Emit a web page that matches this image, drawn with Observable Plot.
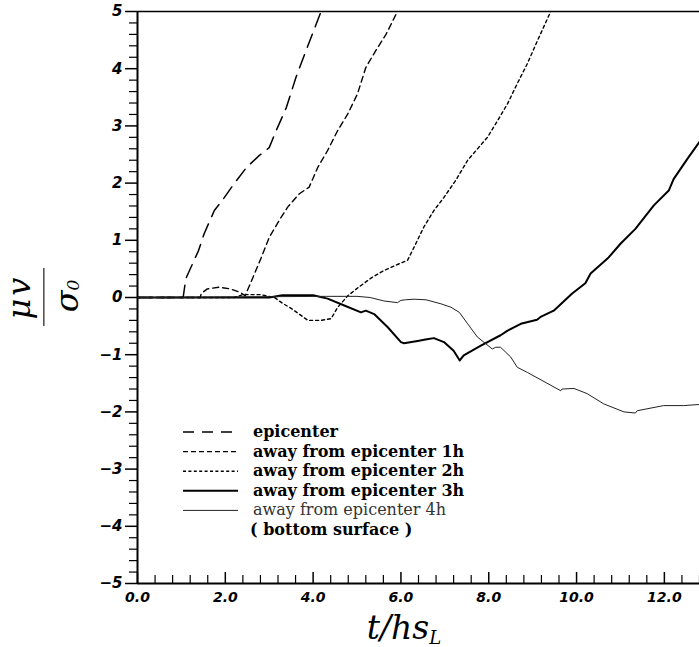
<!DOCTYPE html>
<html><head><meta charset="utf-8">
<script src="https://cdn.jsdelivr.net/npm/d3@7"></script>
<script src="https://cdn.jsdelivr.net/npm/@observablehq/plot@0.6"></script>
<style>
body{margin:0;background:#fff;}
#chart{position:absolute;left:0;top:0;}
</style>
</head><body><div id="chart"></div>
<script>
// ---- data ----
const epiT = [0, 1.04, 1.1, 1.39, 1.52, 1.75, 1.98, 2.2, 2.48, 2.77, 3.0, 3.16, 3.39, 3.61, 3.84, 4.18];
const epiV = [0, 0, 0.33, 0.82, 1.12, 1.52, 1.75, 1.99, 2.27, 2.48, 2.62, 2.92, 3.32, 3.85, 4.32, 5.0];

const h1T = [0, 1.43, 1.45, 1.59, 1.86, 2.11, 2.34, 2.45, 2.63, 2.82, 3.0, 3.23, 3.42, 3.68, 3.91, 4.11, 4.33, 4.56, 4.79, 5.01, 5.2, 5.43, 5.66, 5.92];
const h1V = [0, 0, 0.07, 0.15, 0.18, 0.15, 0.09, 0.03, 0.35, 0.70, 1.05, 1.35, 1.58, 1.81, 1.93, 2.28, 2.57, 2.92, 3.21, 3.56, 4.02, 4.32, 4.6, 5.0];

const h2T = [0, 2.2, 2.4, 2.8, 3.12, 3.3, 3.5, 3.7, 3.88, 4.18, 4.41, 4.56, 4.79, 5.02, 5.32, 5.61, 5.9, 6.15, 6.3, 6.52, 6.75, 6.98, 7.25, 7.52, 7.97, 8.2, 8.43, 8.65, 8.88, 9.11, 9.41];
const h2V = [0, 0, 0.05, 0.05, 0.0, -0.1, -0.19, -0.3, -0.4, -0.4, -0.37, -0.17, 0.03, 0.17, 0.34, 0.47, 0.57, 0.65, 0.88, 1.23, 1.52, 1.75, 2.05, 2.4, 2.8, 3.09, 3.39, 3.74, 4.09, 4.49, 5.0];

const h3T = [0, 3.0, 3.3, 4.0, 4.33, 4.71, 5.09, 5.2, 5.39, 5.7, 6.0, 6.07, 6.38, 6.59, 6.75, 6.98, 7.2, 7.34, 7.43, 7.82, 8.27, 8.43, 8.73, 9.1, 9.18, 9.48, 9.9, 10.2, 10.32, 10.73, 11.0, 11.34, 11.76, 12.1, 12.21, 12.52, 12.8];
const h3V = [0, 0, 0.04, 0.04, -0.02, -0.14, -0.26, -0.23, -0.29, -0.52, -0.78, -0.8, -0.76, -0.73, -0.71, -0.78, -0.93, -1.1, -1.01, -0.84, -0.66, -0.58, -0.46, -0.39, -0.34, -0.23, 0.07, 0.25, 0.42, 0.7, 0.94, 1.2, 1.61, 1.87, 2.07, 2.42, 2.72];

const h4T = [0, 4.3, 5.0, 5.3, 5.61, 5.92, 6.0, 6.1, 6.3, 6.57, 6.91, 7.14, 7.33, 7.52, 7.74, 8.08, 8.16, 8.27, 8.5, 8.65, 8.88, 9.64, 9.67, 9.94, 10.24, 10.62, 11.08, 11.34, 11.38, 11.98, 12.44, 12.8];
const h4V = [0, 0.02, 0.02, 0.0, -0.06, -0.09, -0.05, -0.04, -0.03, -0.04, -0.11, -0.17, -0.26, -0.46, -0.69, -0.9, -0.87, -0.87, -1.04, -1.22, -1.31, -1.63, -1.6, -1.59, -1.68, -1.86, -2.0, -2.02, -1.98, -1.89, -1.89, -1.87];

const seriesNames = ["epicenter", "away from epicenter 1h", "away from epicenter 2h", "away from epicenter 3h", "away from epicenter 4h"];
const legendExtra = "( bottom surface )";

const yMajor = [-5, -4, -3, -2, -1, 0, 1, 2, 3, 4, 5];
const yLabels = ["\u22125", "\u22124", "\u22123", "\u22122", "\u22121", "0", "1", "2", "3", "4", "5"];
const xMajor = [0, 2, 4, 6, 8, 10, 12];
const xLabels = ["0.0", "2.0", "4.0", "6.0", "8.0", "10.0", "12.0"];
const yMinor = d3.range(-5, 5.0001, 0.2).map(v => +v.toFixed(1)).filter(v => !Number.isInteger(v));
const xMinor = d3.range(0, 12.8001, 0.4).map(v => +v.toFixed(1)).filter(v => v % 2 !== 0);

// ---- styles ----
const styles = [
  {dash: "14,8", width: 1.5, color: "#000", legendDash: "11,8", weight: "bold"},
  {dash: "6,4", width: 1.4, color: "#000", legendDash: "5,3", weight: "bold"},
  {dash: "3,3", width: 1.4, color: "#000", legendDash: "3,2.4", weight: "bold"},
  {dash: null, width: 2, color: "#000", legendDash: null, weight: "bold"},
  {dash: null, width: 1, color: "#222", legendDash: null, weight: "normal"}
];
const rows = (T, V) => T.map((t, i) => ({t, v: V[i]}));
const series = [rows(epiT, epiV), rows(h1T, h1V), rows(h2T, h2V), rows(h3T, h3V), rows(h4T, h4V)];

const W = 699, H = 647;
const mL = 137, mR = 0, mT = 11, mB = 64;
const pxY = 10 / (H - mT - mB); // data units per pixel on y

const lineMarks = series.map((d, i) => Plot.line(d, {
  x: "t", y: "v", stroke: styles[i].color, strokeWidth: styles[i].width,
  strokeDasharray: styles[i].dash || undefined, clip: true, curve: "linear"
}));

const axisFont = {fontFamily: "DejaVu Sans", fontWeight: "bold", fontStyle: "italic", fontSize: 14};

const plot = Plot.plot({
  width: W, height: H,
  marginLeft: mL, marginRight: mR, marginTop: mT, marginBottom: mB,
  x: {domain: [0, 12.8], label: null},
  y: {domain: [-5, 5], label: null},
  style: {background: "white", overflow: "visible", color: "#000"},
  marks: [
    Plot.axisY(yMajor, {tickSize: 12, tickPadding: 3, tickFormat: d => yLabels[yMajor.indexOf(d)], label: null, strokeWidth: 1.5, ...axisFont, fontSize: 15}),
    Plot.axisY(yMinor, {tickSize: 8, tickFormat: () => "", label: null, strokeWidth: 1.2}),
    Plot.ruleX(xMajor, {y1: -5, y2: -5 + 11 * pxY, strokeWidth: 1.5}),
    Plot.ruleX(xMinor, {y1: -5, y2: -5 + 8 * pxY, strokeWidth: 1.2}),
    Plot.axisX(xMajor, {tickSize: 0, tickPadding: 9, tickFormat: d => xLabels[xMajor.indexOf(d)], label: null, ...axisFont}),
    Plot.ruleY([5], {strokeWidth: 1.6}),
    Plot.ruleY([-5], {strokeWidth: 2}),
    Plot.ruleX([0], {strokeWidth: 2}),
    ...lineMarks
  ]
});

const svg = d3.select(plot);

// y-axis label: mu v / sigma_0 (rotated fraction)
const yl = svg.append("g").attr("font-family", "DejaVu Serif").attr("font-style", "italic").attr("fill", "#000");
yl.append("text").attr("transform", "translate(30,297) rotate(-90)").attr("text-anchor", "middle")
  .attr("font-size", 32).attr("letter-spacing", 3).text("\u03bcv");
yl.append("rect").attr("x", 43).attr("y", 268).attr("width", 1.6).attr("height", 58).attr("fill", "#555");
const sg = yl.append("text").attr("transform", "translate(78,296) rotate(-90)").attr("text-anchor", "middle")
  .attr("font-size", 32);
sg.append("tspan").text("\u03c3");
sg.append("tspan").attr("font-size", 17).attr("dy", 1).text("0");

// x-axis label: t/hs_L
const xl = svg.append("text").attr("x", 404).attr("y", 639).attr("text-anchor", "middle")
  .attr("font-family", "DejaVu Serif").attr("font-style", "italic").attr("font-size", 33).attr("fill", "#000");
xl.append("tspan").text("t/hs");
xl.append("tspan").attr("font-size", 18).attr("dy", 5).text("L");

// legend
const lg = svg.append("g").attr("text-anchor", "start");
const rowY = [437, 456.6, 476.2, 495.8, 515.4, 535];
seriesNames.forEach((name, i) => {
  const st = styles[i];
  lg.append("line").attr("x1", 183).attr("x2", 238).attr("y1", rowY[i] - 5).attr("y2", rowY[i] - 5)
    .attr("stroke", st.color).attr("stroke-width", st.width)
    .attr("stroke-dasharray", st.legendDash);
  lg.append("text").attr("x", 253).attr("y", rowY[i]).attr("text-anchor", "start").attr("font-family", "DejaVu Serif")
    .attr("font-size", 16).attr("font-weight", st.weight).attr("fill", i === 4 ? "#333" : "#000").text(name);
});
lg.append("text").attr("x", 250).attr("y", rowY[5]).attr("text-anchor", "start").attr("font-family", "DejaVu Serif")
  .attr("font-size", 16).attr("font-weight", "bold").style("white-space", "pre").text(legendExtra);

document.getElementById("chart").appendChild(plot);
</script>
</body></html>
